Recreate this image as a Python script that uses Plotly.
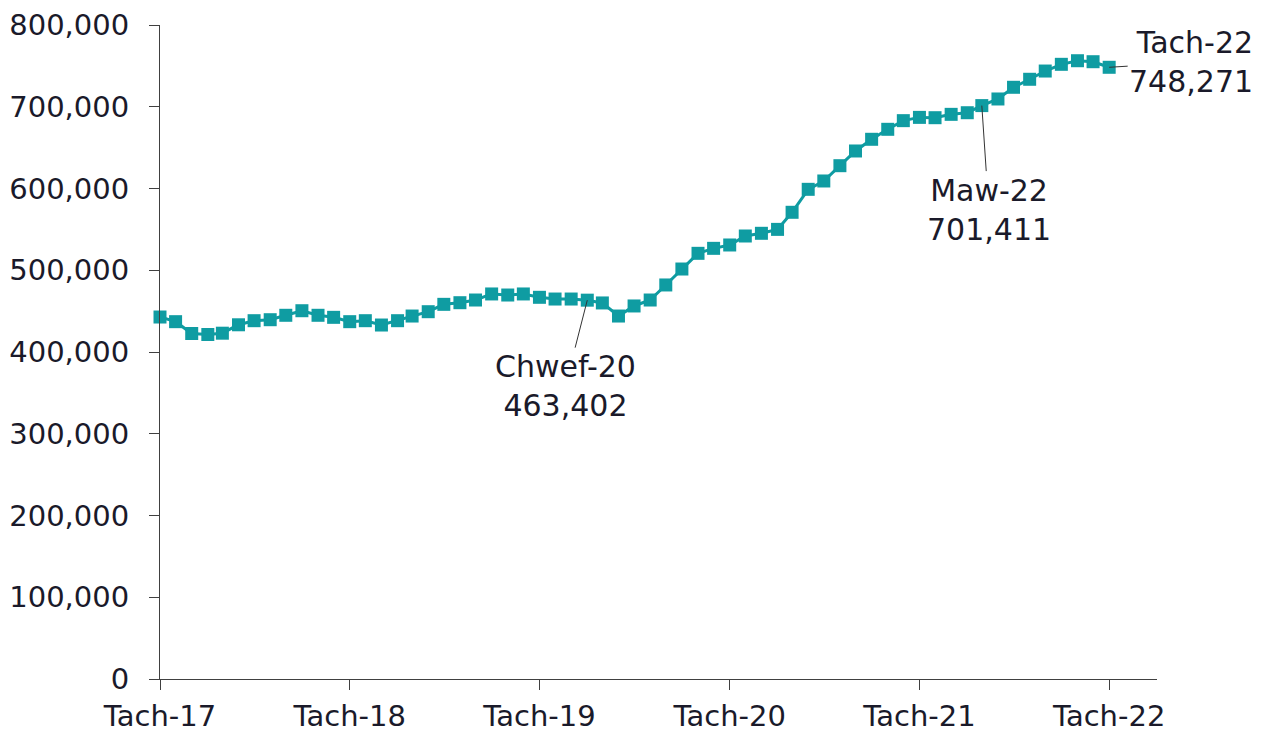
import pandas as pd
import plotly.graph_objects as go

# Misoedd (Tach-17 .. Tach-22), un pwynt y mis
months = pd.date_range("2017-11-01", periods=61, freq="MS")

values = [
    442800, 437100, 422600, 421400, 423000, 433300, 438300, 439500, 444900, 450500,
    444900, 442400, 437100, 438300, 433000, 438300, 444000, 449300, 458300, 460300,
    463600, 471000, 469700, 471000, 466900, 464800, 464800, 463402, 460000, 444000,
    456300, 463600, 482000, 501500, 520700, 526800, 530900, 541900, 545200, 550000,
    570900, 599000, 609200, 627900, 645900, 660200, 672400, 683000, 687000, 686600,
    690700, 692700, 701411, 709500, 723800, 733600, 743700, 751900, 756300, 755100,
    748271,
]

tick_dates = ["2017-11-01", "2018-11-01", "2019-11-01", "2020-11-01", "2021-11-01", "2022-11-01"]
tick_text = ["Tach-17", "Tach-18", "Tach-19", "Tach-20", "Tach-21", "Tach-22"]

# Labeli ar y siart: (dyddiad, testun)
callouts = [
    ("2020-02-01", "Chwef-20<br>463,402"),
    ("2022-03-01", "Maw-22<br>701,411"),
    ("2022-11-01", "Tach-22<br>748,271"),
]

TEAL = "#0f9ca2"
INK = "#1a1a2a"
AXIS = "#404040"

fig = go.Figure()

fig.add_trace(go.Scatter(
    x=months,
    y=values,
    mode="lines+markers",
    line=dict(color=TEAL, width=3),
    marker=dict(symbol="square", size=13, color=TEAL),
    cliponaxis=False,
    showlegend=False,
    hovertemplate="%{x|%b-%y}<br>%{y:,}<extra></extra>",
))

# safle'r testun o'i gymharu â'r pwynt (px)
offsets = [(-22, 86, "center"), (7, 104, "center"), (82, -5, "right")]
for (d, txt), (ax, ay, al) in zip(callouts, offsets):
    yv = values[list(months).index(pd.Timestamp(d))]
    fig.add_annotation(
        x=d, y=yv, xref="x", yref="y",
        text=txt, showarrow=True, arrowhead=0, arrowwidth=1, arrowcolor="#333",
        ax=ax, ay=ay, align=al,
        font=dict(size=30, color=INK),
    )

# mae gan y dudalen HTML ymyl 8px, felly mae'r ymylon wedi'u symud
fig.update_layout(
    width=1266, height=731,
    paper_bgcolor="white",
    plot_bgcolor="white",
    font=dict(family="DejaVu Sans", size=29, color=INK),
    margin=dict(l=152, r=117, t=17, b=60),
    xaxis=dict(
        type="date",
        range=["2017-11-01", "2023-02-01"],
        tickvals=tick_dates, ticktext=tick_text,
        showgrid=False, showline=True, linecolor=AXIS, linewidth=1,
        ticks="outside", ticklen=10, tickcolor=AXIS,
        ticklabelstandoff=1,
        zeroline=False, automargin=False,
    ),
    yaxis=dict(
        range=[0, 800000],
        tickvals=[0, 100000, 200000, 300000, 400000, 500000, 600000, 700000, 800000],
        tickformat=",d",
        showgrid=False, showline=True, linecolor=AXIS, linewidth=1,
        ticks="outside", ticklen=10, tickcolor=AXIS,
        ticklabelstandoff=14,
        zeroline=False, automargin=False,
    ),
)

fig.write_html("out.html")
